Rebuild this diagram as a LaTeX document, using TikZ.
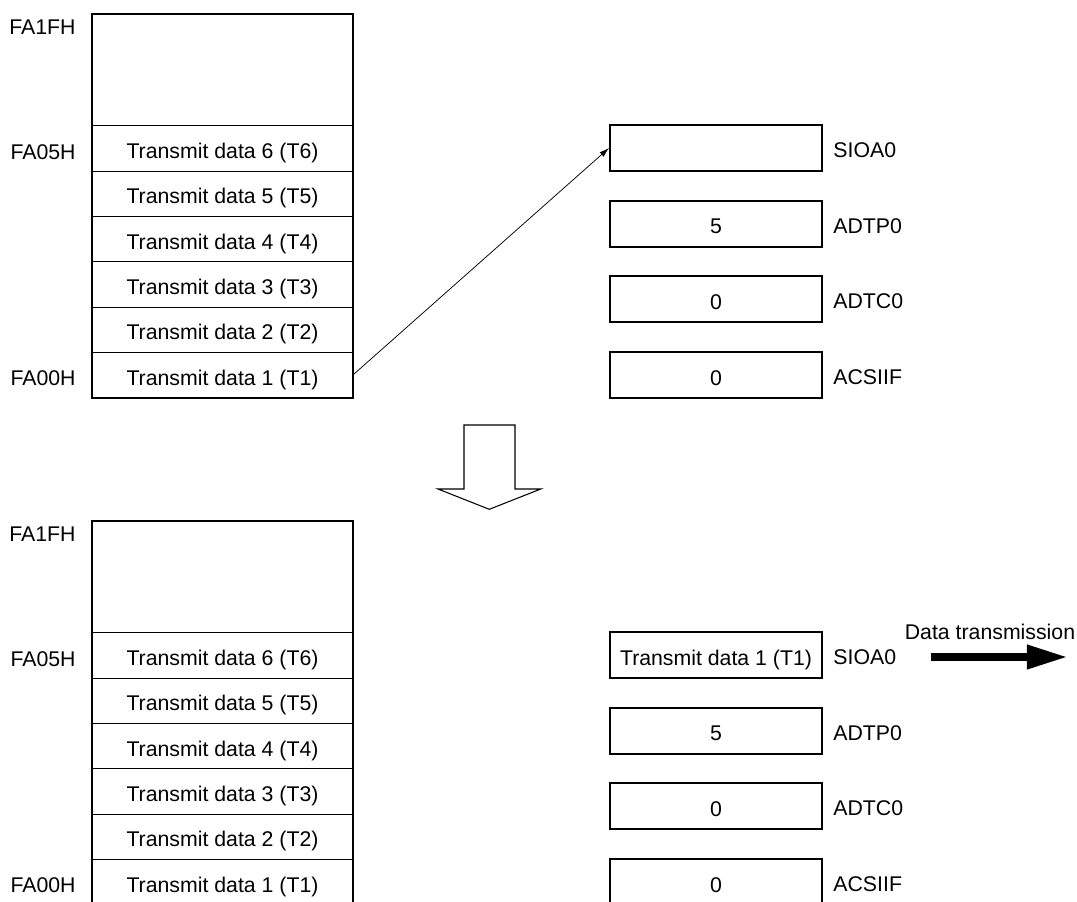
\documentclass[tikz,border=0pt]{standalone}
\usepackage{fontspec}
\setmainfont{Liberation Sans}
\usetikzlibrary{arrows.meta,positioning}
\tikzset{
  dt text/.style={font=\fontsize{10}{12}\selectfont},
  dt cell/.style={draw, line width=0.4pt, minimum width=122.7pt, minimum height=21.3pt,
    inner sep=0pt, outer sep=0pt, text height=0.96em, text depth=0pt, dt text},
  dt free/.style={dt cell, minimum height=52.7pt},
  dt frame/.style={draw, line width=0.95pt},
  dt reg/.style={draw, line width=0.95pt, minimum width=99.6pt, minimum height=21.6pt,
    inner sep=0pt, text height=0.96em, text depth=0pt, dt text},
  dt name/.style={dt text, anchor=west, inner sep=0pt},
  dt addr/.style={dt text, anchor=east, inner sep=0pt},
  dt link/.style={-{Latex[length=4.6pt,width=2.8pt]}, line width=0.35pt},
  dt hollow/.style={draw, line width=0.5pt, fill=white, line join=miter},
  dt send/.style={-{Triangle[length=19.3pt,width=10.6pt]}, line width=3.8pt}
}

\begin{document}
\begin{tikzpicture}[x=0.47pt, y=-0.47pt, dt text]
  \useasboundingbox (0,0) rectangle (1077,901);
  \foreach \h/\dy/\sio in {a/0/{}, b/507/{Transmit data 1 (T1)}} {
    \begin{scope}[shift={(0,\dy)}]
      \node[dt free] (\h free) at (222.5,69.6) {};
      \foreach \i in {1,...,6}
        \node[dt cell] (\h\i) at (222.5,{374.9-45.3*(\i-1)}) {Transmit data \i\ (T\i)};
      \draw[dt frame] (\h free.north west) rectangle (\h1.south east);
      \node[dt addr] (\h addr1f) at (76,27) {FA1FH};
      \node[dt addr] (\h addr05) at (76,152) {FA05H};
      \node[dt addr] (\h addr00) at (76,378) {FA00H};
      \node[dt reg] (\h sio) at (716,148) {\sio};
      \node[dt reg] (\h adtp) at (716,223.7) {5};
      \node[dt reg] (\h adtc) at (716,299.4) {0};
      \node[dt reg] (\h acsiif) at (716,375) {0};
      \node[dt name] (\h siolab) at (833,150) {SIOA0};
      \node[dt name] (\h adtplab) at (833,225.7) {ADTP0};
      \node[dt name] (\h adtclab) at (833,301.4) {ADTC0};
      \node[dt name] (\h acsiiflab) at (833,377) {ACSIIF};
    \end{scope}
  }
  \draw[dt link] (a1.east) -- (asio.west);
  \draw[dt hollow] (464,425) -- (515,425) -- (515,489) -- (540.7,489) -- (489.3,509.3)
    -- (438,489) -- (464,489) -- cycle;
  \coordinate (send start) at (931,657);
  \coordinate (send end) at (1068,657);
  \draw[dt send] (send start) -- (send end);
  \node[dt text, inner sep=0pt] (sendlab) at (990,632) {Data transmission};
\end{tikzpicture}
\end{document}
